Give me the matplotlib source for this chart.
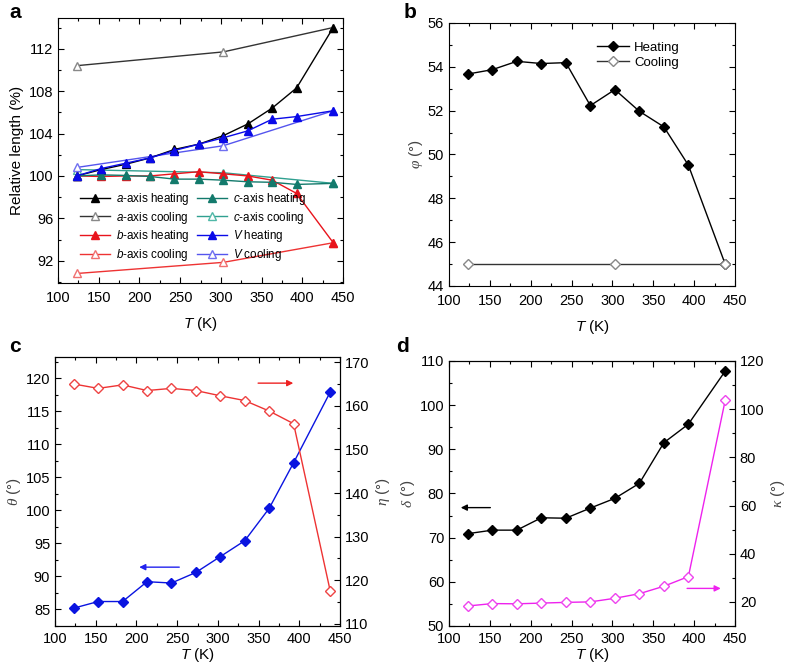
import matplotlib
matplotlib.use('Agg')
import matplotlib.pyplot as plt
from matplotlib.ticker import MultipleLocator
import numpy as np

plt.rcParams['font.family'] = 'Liberation Sans'
plt.rcParams['font.size'] = 10
plt.rcParams['mathtext.fontset'] = 'custom'
plt.rcParams['mathtext.sf'] = 'Liberation Sans:italic'
plt.rcParams['mathtext.it'] = 'Liberation Serif:italic'
plt.rcParams['mathtext.rm'] = 'Liberation Sans'

# temperatures (K)
T_heat = [123, 153, 183, 213, 243, 273, 303, 333, 363, 393, 438]
T_cool = [123, 303, 438]

# panel a: relative length (%)
a_heat = [100.0, 100.6, 101.1, 101.7, 102.5, 103.0, 103.8, 104.9, 106.4, 108.3, 114.0]
a_cool = [110.4, 111.7, 114.0]
b_heat = [100.0, 99.95, 100.0, 100.0, 100.2, 100.4, 100.2, 100.0, 99.6, 98.35, 93.7]
b_cool = [90.8, 91.85, 93.7]
c_heat = [100.0, 100.1, 100.05, 99.95, 99.7, 99.7, 99.6, 99.45, 99.4, 99.2, 99.3]
c_cool = [100.6, 100.3, 99.3]
v_heat = [100.0, 100.7, 101.2, 101.7, 102.4, 103.0, 103.6, 104.25, 105.35, 105.6, 106.15]
v_cool = [100.8, 102.85, 106.15]

# panel b: phi (deg)
phi_heat = [53.67, 53.87, 54.25, 54.15, 54.19, 52.23, 52.96, 51.97, 51.26, 49.51, 45.0]
phi_cool = [45.0, 45.0, 45.0]

# panel c: theta (left), eta (right)
theta = [85.2, 86.2, 86.2, 89.2, 89.0, 90.6, 93.0, 95.4, 100.3, 107.2, 117.9]
eta = [165.0, 164.0, 164.8, 163.5, 164.0, 163.5, 162.3, 161.2, 158.8, 155.9, 117.5]

# panel d: delta (left), kappa (right)
delta = [70.9, 71.7, 71.7, 74.5, 74.4, 76.7, 78.9, 82.3, 91.5, 95.7, 107.7]
kappa = [18.3, 19.3, 19.2, 19.5, 19.8, 20.0, 21.5, 23.4, 26.5, 30.5, 103.6]

fig = plt.figure(figsize=(7.88, 6.68), dpi=100)
ax_a = fig.add_axes([0.0736, 0.5763, 0.3617, 0.3968])
ax_b = fig.add_axes([0.5698, 0.5719, 0.3629, 0.3937])
ax_c = fig.add_axes([0.0698, 0.0629, 0.3617, 0.4027])
ax_d = fig.add_axes([0.5698, 0.0629, 0.3629, 0.3967])


def ticks(ax, **kw):
    ax.tick_params(which='both', direction='in', labelsize=10.5, **kw)
    ax.tick_params(which='major', length=4, width=0.8)
    ax.tick_params(which='minor', length=2, width=0.8)


def style(ax, ymaj, ymin, right=True, top_row=True):
    ticks(ax, top=True, right=right)
    ax.tick_params(axis='x', which='both', pad=6 if top_row else 4.5)
    ax.xaxis.set_major_locator(MultipleLocator(50))
    ax.xaxis.set_minor_locator(MultipleLocator(25))
    ax.yaxis.set_major_locator(MultipleLocator(ymaj))
    ax.yaxis.set_minor_locator(MultipleLocator(ymin))
    ax.set_xlim(100, 450)
    ax.set_xlabel(r'$\mathsf{T}$ (K)', fontsize=11, labelpad=7 if top_row else 0)


# ---- panel a ----
lw = 1.0
ms = 6
ax_a.plot(T_cool, a_cool, '-^', color='#333333', mfc='white', mec='#888888', lw=lw, ms=ms, label=r'$\mathsf{a}$-axis cooling')
ax_a.plot(T_cool, b_cool, '-^', color='#ee3333', mfc='white', mec='#f07070', lw=lw, ms=ms, label=r'$\mathsf{b}$-axis cooling')
ax_a.plot(T_cool, c_cool, '-^', color='#30a090', mfc='white', mec='#50b8a8', lw=lw, ms=ms, label=r'$\mathsf{c}$-axis cooling')
ax_a.plot(T_cool, v_cool, '-^', color='#5555ee', mfc='white', mec='#7070f0', lw=lw, ms=ms, label=r'$\mathsf{V}$ cooling')
ax_a.plot(T_heat, a_heat, '-^', color='black', lw=lw, ms=ms, label=r'$\mathsf{a}$-axis heating')
ax_a.plot(T_heat, b_heat, '-^', color='#e8141c', lw=lw, ms=ms, label=r'$\mathsf{b}$-axis heating')
ax_a.plot(T_heat, c_heat, '-^', color='#137a6c', lw=lw, ms=ms, label=r'$\mathsf{c}$-axis heating')
ax_a.plot(T_heat, v_heat, '-^', color='#0a0ae8', lw=lw, ms=ms, label=r'$\mathsf{V}$ heating')
style(ax_a, 4, 2)
ax_a.set_ylim(89.9, 114.9)
ax_a.set_ylabel('Relative length (%)', fontsize=11, labelpad=3)
h, l = ax_a.get_legend_handles_labels()
order = [4, 0, 5, 1, 6, 2, 7, 3]
ax_a.legend([h[i] for i in order], [l[i] for i in order], ncol=2, frameon=False,
            fontsize=8.4, handlelength=2.6, handletextpad=0.5, columnspacing=0.6,
            labelspacing=0.22, numpoints=1, loc='upper left',
            bbox_to_anchor=(0.06, 0.365), borderaxespad=0)

# ---- panel b ----
ax_b.plot(T_heat, phi_heat, '-D', color='black', lw=lw, ms=5.5, label='Heating')
ax_b.plot(T_cool, phi_cool, '-D', color='#333333', mfc='white', mec='#888888', lw=lw, ms=5.5, label='Cooling')
style(ax_b, 2, 1)
ax_b.set_ylim(44, 56)
ax_b.set_ylabel(r'$\varphi$ (°)', fontsize=11, color='#444444', labelpad=2)
ax_b.legend(frameon=False, fontsize=9.5, handlelength=2.4, handletextpad=0.4,
            labelspacing=0.2, loc='upper left', bbox_to_anchor=(0.5, 0.95),
            borderaxespad=0)

# ---- panel c ----
ax_c2 = ax_c.twinx()
ax_c.plot(T_heat, theta, '-D', color='#0a14e0', lw=lw, ms=5.5, zorder=3)
ax_c2.plot(T_heat, eta, '-D', color='#ee3333', mfc='white', mec='#ee4444', lw=lw, ms=5.5)
style(ax_c, 5, 2.5, right=False, top_row=False)
ax_c.set_ylim(82.5, 123.2)
ax_c2.set_ylim(109.5, 171.2)
ax_c2.yaxis.set_major_locator(MultipleLocator(10))
ax_c2.yaxis.set_minor_locator(MultipleLocator(5))
ticks(ax_c2)
ax_c.set_ylabel(r'$\theta$ (°)', fontsize=11, color='#444444', labelpad=2)
ax_c2.set_ylabel(r'$\eta$ (°)', fontsize=11, color='#444444', labelpad=3)
ax_c2.annotate('', xy=(396, 165.2), xytext=(346, 165.2),
               arrowprops=dict(arrowstyle='-|>', color='#ee2222', lw=1, mutation_scale=9))
ax_c.annotate('', xy=(200, 91.4), xytext=(256, 91.4),
              arrowprops=dict(arrowstyle='-|>', color='#2222ee', lw=1, mutation_scale=9))

# ---- panel d ----
ax_d2 = ax_d.twinx()
ax_d.plot(T_heat, delta, '-D', color='black', lw=lw, ms=5.5, zorder=3)
ax_d2.plot(T_heat, kappa, '-D', color='#ee22ee', mfc='white', mec='#ee44ee', lw=lw, ms=5.5)
style(ax_d, 10, 5, right=False, top_row=False)
ax_d.set_ylim(50, 110)
ax_d2.set_ylim(10, 120)
ax_d2.yaxis.set_major_locator(MultipleLocator(20))
ax_d2.yaxis.set_minor_locator(MultipleLocator(10))
ticks(ax_d2)
ax_d.set_ylabel(r'$\delta$ (°)', fontsize=11, color='#444444', labelpad=2)
ax_d2.set_ylabel(r'$\kappa$ (°)', fontsize=11, color='#444444', labelpad=3)
ax_d.annotate('', xy=(111, 76.8), xytext=(154, 76.8),
              arrowprops=dict(arrowstyle='-|>', color='black', lw=1, mutation_scale=9))
ax_d2.annotate('', xy=(436, 25.6), xytext=(388, 25.6),
               arrowprops=dict(arrowstyle='-|>', color='#ee22ee', lw=1, mutation_scale=9))

# panel letters
for x, y, s in [(0.012, 0.995, 'a'), (0.512, 0.995, 'b'), (0.012, 0.495, 'c'), (0.503, 0.495, 'd')]:
    fig.text(x, y, s, fontsize=15, fontweight='bold', va='top')

fig.savefig('out.png', dpi=100)
